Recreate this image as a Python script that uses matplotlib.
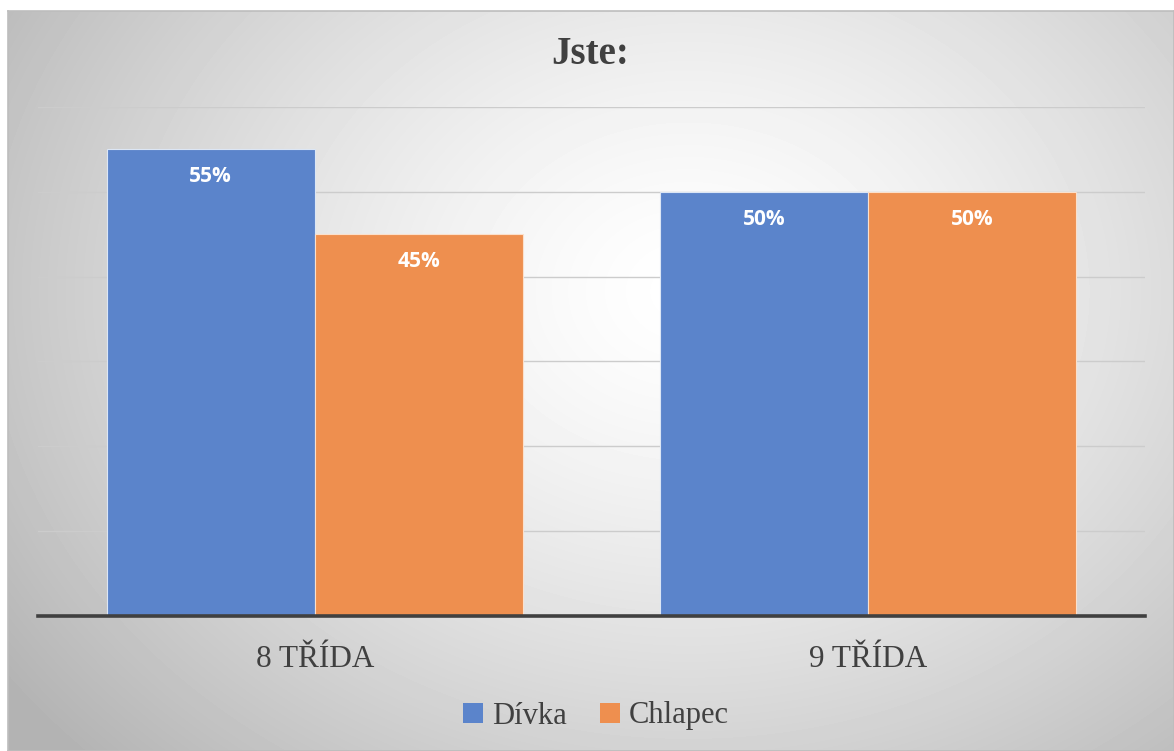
import matplotlib.pyplot as plt
import numpy as np
from matplotlib.patches import Patch

# data
categories = ["8 TŘÍDA", "9 TŘÍDA"]
divka = [0.55, 0.50]
chlapec = [0.45, 0.50]
series_names = ["Dívka", "Chlapec"]

blue = "#5b84cb"
orange = "#ee8f4f"
text_col = "#404040"

W, H = 1174, 751
fig = plt.figure(figsize=(W / 100, H / 100), dpi=100)
fig.patch.set_facecolor("white")

# radial gray gradient background of the chart area
bg = fig.add_axes([8 / W, 0, 1 - 8 / W, 1 - 11 / H])
yy, xx = np.mgrid[0:740, 0:1166]
cx, cy = 680, 280
r = np.sqrt(((xx - cx) / 700.0) ** 2 + ((yy - cy) / 560.0) ** 2)
r = np.clip(r, 0, 1.2)
val = 1 - 0.23 * r ** 1.4
bg.imshow(val, cmap="gray", vmin=0, vmax=1, aspect="auto",
          extent=[0, 1, 0, 1], origin="upper", interpolation="bilinear")
bg.set_xlim(0, 1)
bg.set_ylim(0, 1)
for s in bg.spines.values():
    s.set_color("#bdbdbd")
    s.set_linewidth(1.2)
bg.set_xticks([])
bg.set_yticks([])
bg.set_zorder(0)

ax = fig.add_axes([38 / W, 1 - 616 / H, (1145 - 38) / W, (616 - 107) / H])
ax.set_zorder(1)
ax.patch.set_alpha(0)

x = np.arange(len(categories))
w = 0.3758
b1 = ax.bar(x - w / 2, divka, w, color=blue, edgecolor="#dce6f5", linewidth=0.8, zorder=3)
b2 = ax.bar(x + w / 2, chlapec, w, color=orange, edgecolor="#fbe0cc", linewidth=0.8, zorder=3)

for bars, vals in [(b1, divka), (b2, chlapec)]:
    for rect, v in zip(bars, vals):
        ax.text(rect.get_x() + rect.get_width() / 2, v - 0.0325, f"{int(round(v * 100))}%",
                ha="center", va="center", color="white", fontsize=15,
                fontweight="bold", family="Open Sans", zorder=4)

ax.set_xlim(-0.5, 1.5)
ax.set_ylim(0, 0.6)
for g in np.arange(0.1, 0.61, 0.1):
    ax.axhline(g, color="#cccccc", lw=1, zorder=1)
ax.axhline(0, color="#404040", lw=2.6, zorder=5, clip_on=False)
for s in ax.spines.values():
    s.set_visible(False)
ax.set_yticks([])
ax.set_xticks(x)
ax.set_xticklabels(categories, family="Liberation Serif", fontsize=22.5, color=text_col)
ax.tick_params(axis="x", length=0, pad=21)

fig.text(590 / W, 1 - 54 / H, "Jste:", ha="center", va="center", fontsize=28,
         fontweight="bold", family="Liberation Serif", color=text_col)

handles = [Patch(facecolor=blue, edgecolor="none"), Patch(facecolor=orange, edgecolor="none")]
fig.legend(handles, series_names, loc="center", bbox_to_anchor=(596 / W, 1 - 716 / H),
           ncol=2, frameon=False, prop={"family": "Liberation Serif", "size": 22},
           labelcolor=text_col, handlelength=0.65, handleheight=0.65, handletextpad=0.3,
           columnspacing=1.1)

fig.savefig("out.png", dpi=100)
